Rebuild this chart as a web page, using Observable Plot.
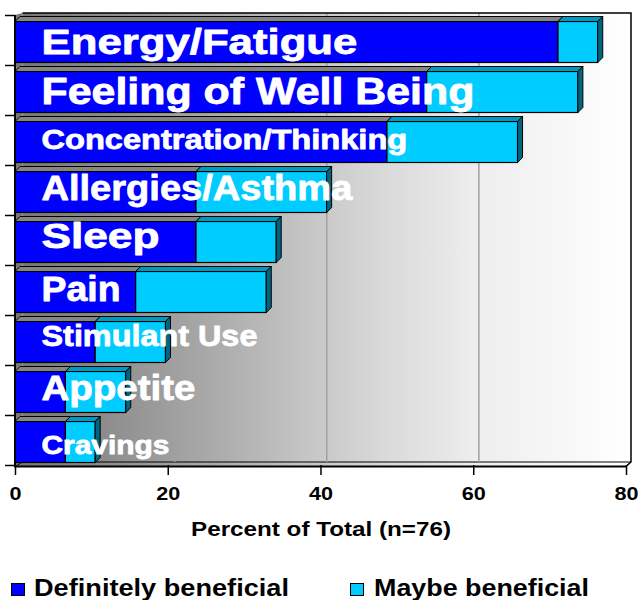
<!DOCTYPE html>
<html><head><meta charset="utf-8">
<script src="https://cdn.jsdelivr.net/npm/d3@7"></script>
<script src="https://cdn.jsdelivr.net/npm/@observablehq/plot@0.6"></script>
<style>
body{margin:0;background:#fff;font-family:"Liberation Sans",Arial,sans-serif;}
#chart{position:relative;width:639px;height:600px;overflow:hidden;}
.sw{position:absolute;width:12px;height:11px;border:1px solid #000;}
.lt{position:absolute;font-weight:bold;font-size:23px;line-height:23px;color:#000;white-space:nowrap;transform-origin:0 0;}
</style></head><body><div id="chart"></div>
<script>
// ---- data ----
const categories = ["Energy/Fatigue","Feeling of Well Being","Concentration/Thinking","Allergies/Asthma","Sleep","Pain","Stimulant Use","Appetite","Cravings"];
const definitely = [71.1, 53.9, 48.7, 23.7, 23.7, 15.8, 10.5, 6.6, 6.6];
const maybe      = [5.2, 19.8, 17.1, 17.1, 10.5, 17.1, 9.2, 7.9, 3.9];
const series = ["Definitely beneficial","Maybe beneficial"];
const xTicks = [0, 20, 40, 60, 80];
const xLabel = "Percent of Total (n=76)";

// ---- styles ----
const colors = ["#0000ff", "#00ccff"];
const topColors = ["#858585", "#0099c0"];
const sideColor = "#006680";
const D = 5;          // bar depth in px
const BAR_DY = 1.5;
const labelStyle = {
  "Energy/Fatigue":        {size:36, ink:313, dy:1.4},
  "Feeling of Well Being": {size:36, ink:430, dy:1.4},
  "Concentration/Thinking":{size:28, ink:363, dy:-0.9},
  "Allergies/Asthma":      {size:36, ink:308, dy:-2.6},
  "Sleep":                 {size:35, ink:115, dy:-4.2},
  "Pain":                  {size:35, ink:76,  dy:-1.2},
  "Stimulant Use":         {size:30, ink:213, dy:-4.9},
  "Appetite":              {size:36, ink:151, dy:-2.6},
  "Cravings":              {size:25, ink:125, dy:4.95}
};

const rows = categories.flatMap((c, i) => [
  {cat: c, series: series[0], value: definitely[i]},
  {cat: c, series: series[1], value: maybe[i]}
]);

function wall(index, s, v, dim) {
  const g = d3.create("svg:g");
  const fx0 = s.x(xTicks[0]), fx1 = s.x(xTicks[xTicks.length-1]);
  const fy0 = dim.marginTop, fy1 = dim.height - dim.marginBottom;
  const bx0 = fx0 + 7.5, bx1 = fx1 + 5, by0 = fy0 - 2, by1 = fy1 - 3;
  const bx = val => bx0 + (s.x(val) - fx0) / (fx1 - fx0) * (bx1 - bx0);
  const lg = g.append("defs").append("linearGradient").attr("id","wallGrad")
    .attr("gradientUnits","userSpaceOnUse").attr("x1",bx0).attr("x2",bx1).attr("y1",0).attr("y2",0);
  [[0,"#777777"],[0.13,"#8c8c8c"],[0.3,"#a8a8a8"],[0.46,"#c4c4c4"],[0.6,"#dadada"],[0.75,"#eeeeee"],[0.9,"#f8f8f8"],[1,"#ffffff"]]
    .forEach(([o,c]) => lg.append("stop").attr("offset",o).attr("stop-color",c));
  g.append("polygon").attr("points",[[fx0,fy0],[bx0,by0],[bx0,by1],[fx0,fy1+1]].join(" ")).attr("fill","#7a7a7a");
  g.append("rect").attr("x",bx0).attr("y",by0).attr("width",bx1-bx0).attr("height",by1-by0).attr("fill","url(#wallGrad)");
  g.append("polygon").attr("points",[[fx0,fy1+1.5],[fx1,fy1+1.5],[bx1,by1],[bx0,by1]].join(" "))
    .attr("fill","url(#wallGrad)").attr("stroke","#000").attr("stroke-width",1);
  xTicks.slice(1, -1).forEach(t => g.append("line").attr("x1",bx(t)).attr("x2",bx(t)).attr("y1",by0).attr("y2",by1)
    .attr("stroke","#a0a0a0").attr("stroke-width",1.5));
  g.append("polyline").attr("points",[[bx0,by0],[bx1,by0],[bx1,by1],[fx1,fy1+1.5]].join(" "))
    .attr("fill","none").attr("stroke","#000").attr("stroke-width",1.5);
  return g.node();
}

function frontAxes(index, s, v, dim) {
  const g = d3.create("svg:g");
  const fx0 = s.x(xTicks[0]), fx1 = s.x(xTicks[xTicks.length-1]);
  const fy0 = dim.marginTop, fy1 = dim.height - dim.marginBottom;
  const step = s.y.step(), bw = s.y.bandwidth();
  const bounds = categories.map(c => s.y(c) - (step - bw) / 2);
  bounds.push(s.y(categories[categories.length-1]) + bw + (step - bw) / 2);
  bounds.forEach(b => g.append("line").attr("x1",fx0-10).attr("x2",fx0).attr("y1",b).attr("y2",b)
    .attr("stroke","#000").attr("stroke-width",1.5));
  g.append("line").attr("x1",fx0).attr("x2",fx0).attr("y1",fy0).attr("y2",fy1+1.5).attr("stroke","#000").attr("stroke-width",2);
  g.append("line").attr("x1",fx0-1).attr("x2",fx1).attr("y1",fy1+1.5).attr("y2",fy1+1.5).attr("stroke","#000").attr("stroke-width",2);
  return g.node();
}

function faces(index, s, v, dim) {
  const g = d3.create("svg:g");
  const bw = s.y.bandwidth();
  categories.forEach((c, i) => {
    const y0 = s.y(c) + BAR_DY, y1 = y0 + bw;
    const segs = [[0, definitely[i], topColors[0]], [definitely[i], definitely[i] + maybe[i], topColors[1]]];
    segs.forEach(([a, b, col]) => {
      const xa = s.x(a), xb = s.x(b);
      g.append("polygon").attr("points",[[xa,y0],[xb,y0],[xb+D,y0-D],[xa+D,y0-D]].join(" "))
        .attr("fill",col).attr("stroke","#000").attr("stroke-width",1);
    });
    const xe = s.x(definitely[i] + maybe[i]);
    g.append("polygon").attr("points",[[xe,y0],[xe+D,y0-D],[xe+D,y1-D],[xe,y1]].join(" "))
      .attr("fill",sideColor).attr("stroke","#000").attr("stroke-width",1);
  });
  return g.node();
}

const plot = Plot.plot({
  width: 639, height: 565,
  marginLeft: 15, marginRight: 13, marginTop: 15, marginBottom: 100,
  style: {fontFamily: "'Liberation Sans', Arial, sans-serif", fontWeight: "bold", color: "#000", background: "transparent", overflow: "visible"},
  x: {domain: d3.extent(xTicks)},
  y: {domain: categories, paddingInner: 0.18, paddingOuter: 0.09, axis: null},
  color: {domain: series, range: colors},
  marks: [
    wall,
    Plot.axisX({ticks: xTicks, tickSize: 10, tickPadding: 12, fontSize: 18, fontWeight: "bold", strokeWidth: 1.5, label: null, tickFormat: d => String(d)}),
    Plot.barX(rows, Plot.stackX({x: "value", y: "cat", fill: "series", stroke: "#000", strokeWidth: 1.2, dy: BAR_DY})),
    faces,
    frontAxes,
    ...categories.map(c => Plot.text([c], {
      x: () => 0, y: d => d, text: d => d, textAnchor: "start", lineAnchor: "middle",
      dx: 26, dy: labelStyle[c].dy, fontSize: labelStyle[c].size, fontWeight: "bold", fill: "white",
      stroke: "white", strokeWidth: 0.8
    })),
    Plot.text([xLabel], {frameAnchor: "bottom", text: d => d, lineAnchor: "middle", dy: 64.5, fontSize: 20, fontWeight: "bold", fill: "#000"})
  ]
});

const chart = document.getElementById("chart");
chart.appendChild(plot);

// horizontal stretch (glyph scaling) to match the wide lettering of the original
const tickStrings = xTicks.map(String);
plot.querySelectorAll("text").forEach(t => {
  const s = t.textContent;
  let len = null;
  if (labelStyle[s]) len = labelStyle[s].ink + 3;
  else if (s === xLabel) len = 260;
  else if (tickStrings.includes(s)) len = t.getComputedTextLength() * 1.2;
  if (len == null) return;
  const w = t.getComputedTextLength();
  const tr = t.getAttribute("transform");
  if (tr && w > 0) t.setAttribute("transform", `${tr} scale(${len / w},1)`);
  else { t.setAttribute("textLength", len); t.setAttribute("lengthAdjust", "spacingAndGlyphs"); }
});

// legend (below the svg)
const legendItems = [
  {sq: 11, tx: 34, ink: 252},
  {sq: 350, tx: 374, ink: 212}
];
series.forEach((name, i) => {
  const sq = document.createElement("div");
  sq.className = "sw"; sq.style.left = legendItems[i].sq + "px"; sq.style.top = "583px"; sq.style.background = colors[i];
  chart.appendChild(sq);
  const tx = document.createElement("div");
  tx.className = "lt"; tx.textContent = name;
  tx.style.left = legendItems[i].tx + "px"; tx.style.top = "576.5px";
  chart.appendChild(tx);
  const w = tx.getBoundingClientRect().width;
  tx.style.transform = `scaleX(${(legendItems[i].ink + 3) / w})`;
});
</script></body></html>
